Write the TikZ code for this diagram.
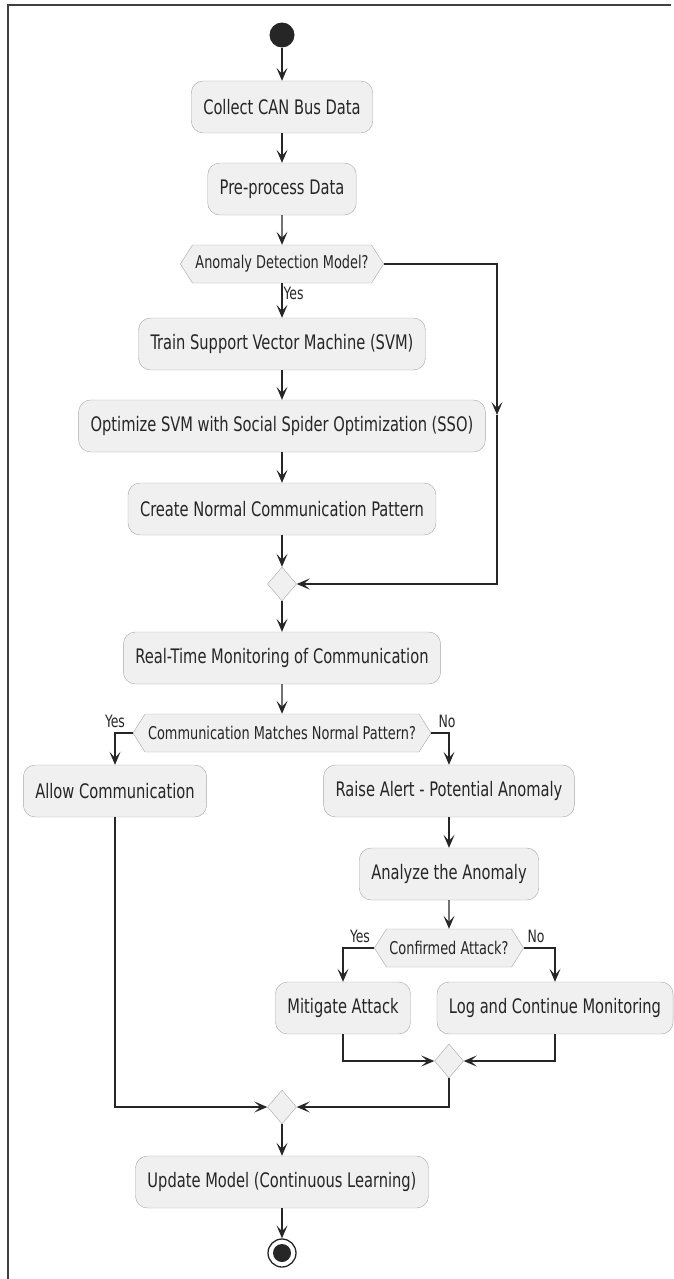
\documentclass[tikz,border=0pt]{standalone}
\usepackage{fontspec}
\setmainfont{DejaVu Sans Condensed}[FakeStretch=0.815]
\usetikzlibrary{shapes.geometric, shapes.symbols, arrows.meta, positioning, calc}

\tikzset{
  act/.style={draw=gray!70, fill=gray!12, rounded corners=12pt, minimum height=52pt, inner xsep=12pt, text=black!85, font=\fontsize{20}{22}\selectfont},
  ask/.style={signal, signal to=west and east, signal pointer angle=115, draw=gray!70, fill=gray!12, minimum height=38pt, inner xsep=3pt, text=black!85, font=\fontsize{17.6}{19}\selectfont},
  merge/.style={diamond, draw=gray!70, fill=gray!12, minimum width=29pt, minimum height=34pt, inner sep=0pt},
  flow/.style={draw=black!85, line width=1.3pt, -{Stealth[length=13pt,width=11pt,inset=6pt]}},
  lbl/.style={font=\fontsize{17}{19}\selectfont, text=black!85, inner sep=1pt}
}

\begin{document}
\begin{tikzpicture}[x=1pt, y=-1pt]
\useasboundingbox (0,0) rectangle (673,1279);
% Frame
\draw[black!75, line width=1.5pt] (8,1279) -- (8,5) -- (671,5);

% Start and preparation
\node[circle, fill=black!85, minimum size=25pt, inner sep=0pt] (start) at (282,35) {};
\node[act] (collect) at (282,107) {Collect CAN Bus Data};
\node[act] (prep) at (282,189) {Pre-process Data};
\node[ask] (model) at (282,264) {Anomaly Detection Model?};

% Training branch
\node[act] (train) at (282,344) {Train Support Vector Machine (SVM)};
\node[act] (optim) at (282,426) {Optimize SVM with Social Spider Optimization (SSO)};
\node[act] (pattern) at (282,509) {Create Normal Communication Pattern};
\node[merge] (m1) at (282,584) {};

% Monitoring
\node[act] (monitor) at (282,658) {Real-Time Monitoring of Communication};
\node[ask] (match) at (282,733) {Communication Matches Normal Pattern?};
\node[act] (allow) at (115,791) {Allow Communication};
\node[act] (alert) at (449,791) {Raise Alert - Potential Anomaly};
\node[act] (analyze) at (449,874) {Analyze the Anomaly};
\node[ask] (confirm) at (449,948) {Confirmed Attack?};
\node[act] (mitigate) at (343,1008) {Mitigate Attack};
\node[act] (logc) at (555,1008) {Log and Continue Monitoring};
\node[merge] (m2) at (449,1061) {};
\node[merge] (m3) at (282,1107) {};

% End
\node[act] (update) at (282,1182) {Update Model (Continuous Learning)};
\node[circle, draw=black!85, line width=1.3pt, fill=white, minimum size=28pt, inner sep=0pt] (stop) at (282,1253) {};
\fill[black!85] (stop.center) circle (9pt);

% Connectors
\draw[flow] (start) -- (collect);
\draw[flow] (collect) -- (prep);
\draw[flow] (prep) -- (model);
\draw[flow] (model.south) -- node[lbl, right, pos=0.3] {Yes} (train);
\draw[flow] (train) -- (optim);
\draw[flow] (optim) -- (pattern);
\draw[flow] (pattern) -- (m1);
\coordinate (skipA) at (497,264);
\coordinate (skipB) at (497,415);
\draw[flow] (model.east) -- (skipA) -- (skipB);
\draw[flow] (skipB) |- (m1.east);
\draw[flow] (m1) -- (monitor);
\draw[flow] (monitor) -- (match);

\draw[flow] (match.west) -| (allow.north);
\node[lbl] (yes1) at (115,721) {Yes};
\draw[flow] (match.east) -| (alert.north);
\node[lbl] (no1) at (447,721) {No};
\draw[flow] (alert) -- (analyze);
\draw[flow] (analyze) -- (confirm);
\draw[flow] (confirm.west) -| (mitigate.north);
\node[lbl] (yes2) at (360,936) {Yes};
\draw[flow] (confirm.east) -| (logc.north);
\node[lbl] (no2) at (536,936) {No};

\draw[flow] (mitigate.south) |- (m2.west);
\draw[flow] (logc.south) |- (m2.east);
\draw[flow] (allow.south) |- (m3.west);
\draw[flow] (m2.south) |- (m3.east);
\draw[flow] (m3) -- (update);
\draw[flow] (update) -- (stop);
\end{tikzpicture}
\end{document}
